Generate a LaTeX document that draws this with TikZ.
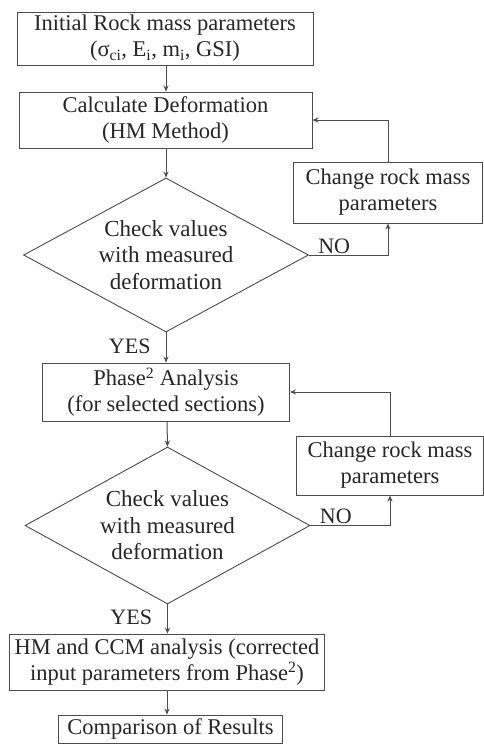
\documentclass[tikz,border=0pt]{standalone}
\usepackage{fontspec}
\setmainfont{Liberation Serif}
\usetikzlibrary{shapes.geometric,arrows.meta}

\begin{document}
\begin{tikzpicture}[x=1pt,y=-1pt,
    process_node/.style={rectangle,draw=black!70,line width=0.9pt,text=black!85,align=center,inner sep=0pt,font=\fontsize{22.5}{26}\selectfont},
    decision_node/.style={diamond,aspect=1.85,draw=black!70,line width=0.9pt,text=black!85,align=center,inner sep=0pt,font=\fontsize{23}{26.5}\selectfont},
    flow_edge/.style={draw=black!70,line width=1pt,-{Stealth[length=6pt,width=5pt]}},
    branch_label/.style={text=black!85,font=\fontsize{22}{24}\selectfont,inner sep=1pt}]
  \useasboundingbox (0.00,0.00) rectangle (484.00,744.00);
\node[process_node,minimum width=296,minimum height=53] (0) at (165.00,38.50) {Initial Rock mass parameters\\(σ\textsubscript{ci}, E\textsubscript{i}, m\textsubscript{i}, GSI)};
\node[process_node,minimum width=293,minimum height=56] (1) at (165.50,120.00) {Calculate Deformation\\(HM Method)};
\node[decision_node,minimum width=285,minimum height=154] (2) at (166.00,255.00) {Check values\\with measured\\deformation};
\node[process_node,minimum width=189,minimum height=61] (3) at (388.00,192.50) {Change rock mass\\parameters};
\node[process_node,minimum width=247,minimum height=58] (4) at (166.00,392.00) {Phase\textsuperscript{2} Analysis\\(for selected sections)};
\node[decision_node,minimum width=285,minimum height=157] (5) at (167.50,525.50) {Check values\\with measured\\deformation};
\node[process_node,minimum width=187,minimum height=59] (6) at (390.00,465.50) {Change rock mass\\parameters};
\node[process_node,minimum width=315,minimum height=56] (7) at (167.00,662.00) {HM and CCM analysis (corrected\\input parameters from Phase\textsuperscript{2})};
\node[process_node,minimum width=224,minimum height=28] (8) at (170.50,729.00) {Comparison of Results};
\draw[flow_edge] (0.south -| 166.00,0.00) -- (1.north -| 166.00,0.00);
\draw[flow_edge] (1.south -| 166.00,0.00) -- (2.north);
\draw[flow_edge] (2.east) -| node[branch_label,pos=0.05,anchor=south west] {NO} (3.south);
\draw[flow_edge] (3.north) |- (1.east);
\draw[flow_edge] (2.south) -- node[branch_label,left,pos=0.45,xshift=-14] {YES} (4.north -| 2.south);
\draw[flow_edge] (4.south -| 167.00,0.00) -- (5.north);
\draw[flow_edge] (5.east) -| node[branch_label,pos=0.05,anchor=south west] {NO} (6.south);
\draw[flow_edge] (6.north) |- (4.east);
\draw[flow_edge] (5.south) -- node[branch_label,left,pos=0.45,xshift=-14] {YES} (7.north -| 5.south);
\draw[flow_edge] (7.south -| 167.00,0.00) -- (8.north -| 167.00,0.00);
\end{tikzpicture}
\end{document}
